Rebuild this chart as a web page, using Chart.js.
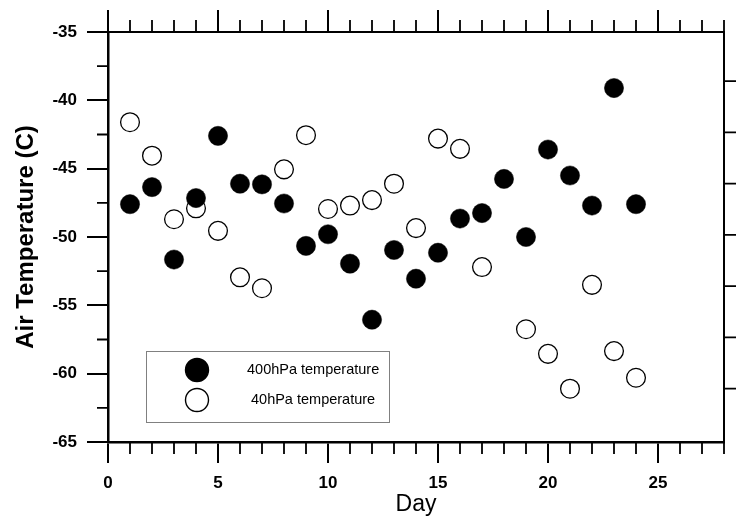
<!DOCTYPE html>
<html>
<head>
<meta charset="utf-8">
<script src="https://cdn.jsdelivr.net/npm/chart.js@4.4.1/dist/chart.umd.min.js"></script>
<style>
  html, body { margin: 0; padding: 0; background: #fff; }
  #wrap { width: 741px; height: 522px; position: relative; }
</style>
</head>
<body>
<div id="wrap"><canvas id="c" width="741" height="522"></canvas></div>
<script>
// ---- data ----
const days = [1,2,3,4,5,6,7,8,9,10,11,12,13,14,15,16,17,18,19,20,21,22,23,24];
const temp400 = [-47.6,-46.35,-51.65,-47.15,-42.6,-46.1,-46.15,-47.55,-50.65,-49.8,-51.95,-56.05,
                 -50.95,-53.05,-51.15,-48.65,-48.25,-45.75,-50.0,-43.6,-45.5,-47.7,-39.1,-47.6];
const temp40  = [-41.6,-44.05,-48.7,-47.9,-49.55,-52.95,-53.75,-45.05,-42.55,-47.95,-47.7,-47.3,
                 -46.1,-49.35,-42.8,-43.55,-52.2,null,-56.75,-58.55,-61.1,-53.5,-58.35,-60.3];
const seriesLabels = ['400hPa temperature', '40hPa temperature'];
const xMajorTicks = [0,5,10,15,20,25];
const xMinorTicks = [1,2,3,4,6,7,8,9,11,12,13,14,16,17,18,19,21,22,23,24,26,27,28];
const yMajorTicks = [-35,-40,-45,-50,-55,-60,-65];
const yMinorTicks = [-37.5,-42.5,-47.5,-52.5,-57.5,-62.5];
const yRightTicks = [-38.6,-42.35,-46.1,-49.85,-53.6,-57.35,-61.1];

const FONT = "'Liberation Sans', Arial, Helvetica, sans-serif";

const frame = {
  id: 'frame',
  afterDraw(chart) {
    const ctx = chart.ctx, a = chart.chartArea;
    const xs = chart.scales.x, ys = chart.scales.y;
    ctx.save();
    ctx.strokeStyle = '#000';
    // top and right borders
    ctx.lineWidth = 2;
    ctx.beginPath();
    ctx.moveTo(a.left - 1, a.top); ctx.lineTo(a.right + 1, a.top);
    ctx.moveTo(a.right, a.top); ctx.lineTo(a.right, a.bottom + 1);
    ctx.stroke();
    // top ticks
    ctx.lineWidth = 2;
    ctx.beginPath();
    xMajorTicks.forEach(v => { const p = xs.getPixelForValue(v); ctx.moveTo(p, a.top); ctx.lineTo(p, a.top - 22); });
    ctx.stroke();
    ctx.lineWidth = 1.8;
    ctx.beginPath();
    xMinorTicks.forEach(v => { const p = xs.getPixelForValue(v); ctx.moveTo(p, a.top); ctx.lineTo(p, a.top - 12);
                               ctx.moveTo(p, a.bottom); ctx.lineTo(p, a.bottom + 12); });
    yMinorTicks.forEach(v => { const p = ys.getPixelForValue(v); ctx.moveTo(a.left, p); ctx.lineTo(a.left - 11, p); });
    yRightTicks.forEach(v => { const p = ys.getPixelForValue(v); ctx.moveTo(a.right, p); ctx.lineTo(a.right + 12, p); });
    ctx.stroke();

    // legend
    const bx = 146, by = 351, bw = 243, bh = 71;
    ctx.fillStyle = '#fff';
    ctx.fillRect(bx, by, bw, bh);
    ctx.strokeStyle = '#808080';
    ctx.lineWidth = 1;
    ctx.strokeRect(bx + 0.5, by + 0.5, bw, bh);
    const ds = chart.data.datasets;
    const rows = [{y: 370, tx: 247}, {y: 400, tx: 251}];
    ds.forEach((d, i) => {
      ctx.beginPath();
      ctx.arc(197, rows[i].y, 11.5, 0, Math.PI * 2);
      ctx.fillStyle = d.pointBackgroundColor;
      ctx.fill();
      ctx.lineWidth = 1.4;
      ctx.strokeStyle = '#000';
      ctx.stroke();
      ctx.fillStyle = '#000';
      ctx.font = '14.5px ' + FONT;
      ctx.textBaseline = 'middle';
      ctx.textAlign = 'left';
      ctx.fillText(d.label, rows[i].tx, rows[i].y);
    });
    ctx.restore();
  }
};

new Chart(document.getElementById('c'), {
  type: 'scatter',
  data: {
    datasets: [
      {
        label: seriesLabels[0],
        data: days.map((d, i) => ({x: d, y: temp400[i]})),
        pointRadius: 9.6,
        pointBackgroundColor: '#000',
        pointBorderColor: '#000',
        pointBorderWidth: 0.5,
        pointHoverRadius: 9.6
      },
      {
        label: seriesLabels[1],
        data: days.map((d, i) => ({x: d, y: temp40[i]})),
        pointRadius: 9.4,
        pointBackgroundColor: '#fff',
        pointBorderColor: '#000',
        pointBorderWidth: 1.3,
        pointHoverRadius: 9.4
      }
    ]
  },
  options: {
    responsive: false,
    animation: false,
    events: [],
    layout: { padding: { top: 32, right: 17, left: 0, bottom: 0 } },
    plugins: { legend: { display: false }, tooltip: { enabled: false } },
    scales: {
      x: {
        type: 'linear',
        position: 'bottom',
        min: 0, max: 28,
        afterFit(s) { s.height = 80; },
        afterBuildTicks(s) { s.ticks = xMajorTicks.map(v => ({value: v})); },
        border: { display: true, color: '#000', width: 2.5 },
        grid: { drawOnChartArea: false, drawTicks: true, tickLength: 21, color: '#000', lineWidth: 2 },
        ticks: { color: '#000', font: { family: FONT, size: 17, weight: 'bold' }, padding: 10, maxRotation: 0 },
        title: { display: true, text: 'Day', color: '#000', font: { family: FONT, size: 23 }, padding: { top: 0, bottom: 4 } }
      },
      y: {
        type: 'linear',
        position: 'left',
        min: -65, max: -35,
        afterFit(s) { s.width = 108; },
        afterBuildTicks(s) { s.ticks = yMajorTicks.map(v => ({value: v})); },
        border: { display: true, color: '#000', width: 2.5 },
        grid: { drawOnChartArea: false, drawTicks: true, tickLength: 21, color: '#000', lineWidth: 2 },
        ticks: { color: '#000', font: { family: FONT, size: 17, weight: 'bold' }, padding: 10 },
        title: { display: true, text: 'Air Temperature (C)', color: '#000', font: { family: FONT, size: 24, weight: 'bold' }, padding: { top: 12, bottom: 0 } }
      }
    }
  },
  plugins: [frame]
});
</script>
</body>
</html>
